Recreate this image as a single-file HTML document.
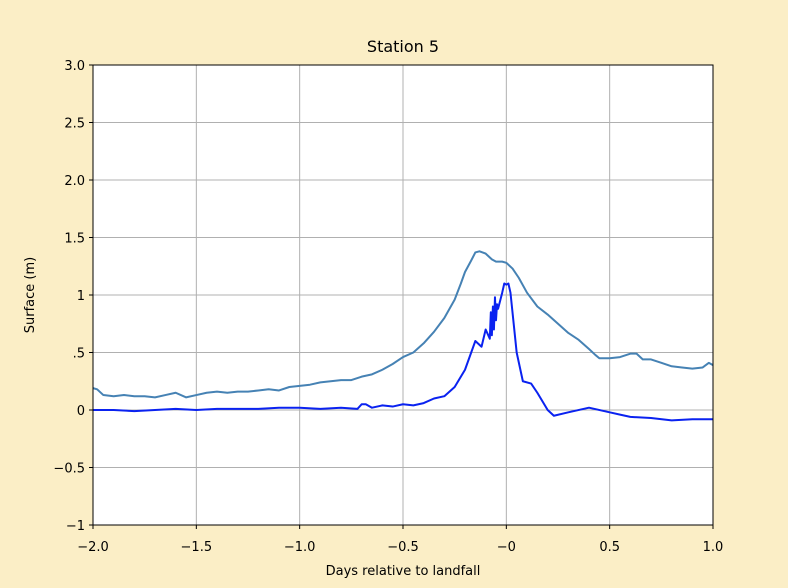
<!DOCTYPE html>
<html><head><meta charset="utf-8"><style>
body{margin:0;background:#fbeec6;}
svg{display:block;font-family:"DejaVu Sans","Liberation Sans",sans-serif;}
</style></head><body>
<svg id="c" width="788" height="588"></svg>
<script>
const xTicks=[-2.0,-1.5,-1.0,-0.5,0,0.5,1.0];
const xTickLabels=["−2.0","−1.5","−1.0","−0.5","−0","0.5","1.0"];
const yTicks=[3,2.5,2,1.5,1,0.5,0,-0.5,-1];
const yTickLabels=["3.0","2.5","2.0","1.5","1",".5","0","−0.5","−1"];
const lightX=[-2.0,-1.98,-1.95,-1.9,-1.85,-1.8,-1.75,-1.7,-1.65,-1.6,-1.55,-1.5,-1.45,-1.4,-1.35,-1.3,-1.25,-1.2,-1.15,-1.1,-1.05,-1.0,-0.95,-0.9,-0.85,-0.8,-0.75,-0.7,-0.65,-0.6,-0.55,-0.5,-0.45,-0.4,-0.35,-0.3,-0.25,-0.22,-0.2,-0.17,-0.15,-0.13,-0.1,-0.07,-0.05,-0.02,0,0.03,0.06,0.1,0.15,0.2,0.25,0.3,0.35,0.4,0.43,0.45,0.5,0.55,0.6,0.63,0.66,0.7,0.75,0.8,0.85,0.9,0.95,0.98,1.0];
const lightY=[0.19,0.18,0.13,0.12,0.13,0.12,0.12,0.11,0.13,0.15,0.11,0.13,0.15,0.16,0.15,0.16,0.16,0.17,0.18,0.17,0.2,0.21,0.22,0.24,0.25,0.26,0.26,0.29,0.31,0.35,0.4,0.46,0.5,0.58,0.68,0.8,0.96,1.1,1.2,1.3,1.37,1.38,1.36,1.31,1.29,1.29,1.28,1.23,1.15,1.02,0.9,0.83,0.75,0.67,0.61,0.53,0.48,0.45,0.45,0.46,0.49,0.49,0.44,0.44,0.41,0.38,0.37,0.36,0.37,0.41,0.39];
const darkX=[-2.0,-1.9,-1.8,-1.7,-1.6,-1.5,-1.4,-1.3,-1.2,-1.1,-1.0,-0.9,-0.8,-0.72,-0.7,-0.68,-0.65,-0.6,-0.55,-0.5,-0.45,-0.4,-0.35,-0.3,-0.25,-0.2,-0.17,-0.15,-0.12,-0.1,-0.08,-0.075,-0.07,-0.065,-0.06,-0.055,-0.05,-0.045,-0.04,-0.03,-0.02,-0.01,0,0.01,0.02,0.05,0.08,0.12,0.15,0.2,0.23,0.3,0.4,0.5,0.55,0.6,0.7,0.8,0.9,1.0];
const darkY=[0,0,-0.01,0,0.01,0,0.01,0.01,0.01,0.02,0.02,0.01,0.02,0.01,0.05,0.05,0.02,0.04,0.03,0.05,0.04,0.06,0.1,0.12,0.2,0.35,0.5,0.6,0.55,0.7,0.62,0.85,0.65,0.9,0.7,0.98,0.78,0.92,0.88,0.95,1.02,1.1,1.09,1.1,1.02,0.5,0.25,0.23,0.15,0.0,-0.05,-0.02,0.02,-0.02,-0.04,-0.06,-0.07,-0.09,-0.08,-0.08];
const L=93,R=713,T=65,B=525,xmin=-2,xmax=1,ymin=-1,ymax=3;
const sx=v=>L+(v-xmin)/(xmax-xmin)*(R-L);
const sy=v=>B-(v-ymin)/(ymax-ymin)*(B-T);
const svg=document.getElementById('c');const NS='http://www.w3.org/2000/svg';
function mk(t,a,p){const e=document.createElementNS(NS,t);for(const k in a)e.setAttribute(k,a[k]);(p||svg).appendChild(e);return e;}
const bg=mk('rect',{x:L,y:T,width:R-L,height:B-T,fill:'#fff'});


xTicks.forEach((v,i)=>{
 const g=mk('line',{x1:sx(v),x2:sx(v),y1:T,y2:B,stroke:'#b0b0b0','stroke-width':1});
 
 
 mk('line',{x1:sx(v),x2:sx(v),y1:B,y2:B+4,stroke:'#000'});
 const t=mk('text',{x:sx(v),y:B+26,'text-anchor':'middle','font-size':13,fill:'#000'});t.textContent=xTickLabels[i];
 
 
});
yTicks.forEach((v,i)=>{
 const g=mk('line',{x1:L,x2:R,y1:sy(v),y2:sy(v),stroke:'#b0b0b0','stroke-width':1});
 
 
 mk('line',{x1:L-4,x2:L,y1:sy(v),y2:sy(v),stroke:'#000'});
 const t=mk('text',{x:L-8,y:sy(v)+5,'text-anchor':'end','font-size':13,fill:'#000'});t.textContent=yTickLabels[i];
 
 
});
function line(xs,ys,c,w,n){const p=mk('polyline',{points:xs.map((x,i)=>sx(x)+','+sy(ys[i])).join(' '),fill:'none',stroke:c,'stroke-width':w,'stroke-linejoin':'round'});
 
 }
line(lightX,lightY,'#4682b4',2,'series-light');
line(darkX,darkY,'#0a22f0',2,'series-dark');
const fr=mk('rect',{x:L,y:T,width:R-L,height:B-T,fill:'none',stroke:'#000','stroke-width':1});


const ti=mk('text',{x:(L+R)/2,y:52,'text-anchor':'middle','font-size':16});ti.textContent='Station 5';


const xl=mk('text',{x:(L+R)/2,y:575,'text-anchor':'middle','font-size':13});xl.textContent='Days relative to landfall';


const yl=mk('text',{x:34,y:(T+B)/2,'text-anchor':'middle','font-size':13,transform:'rotate(-90 34 '+((T+B)/2)+')'});yl.textContent='Surface (m)';


</script>
</body></html>
